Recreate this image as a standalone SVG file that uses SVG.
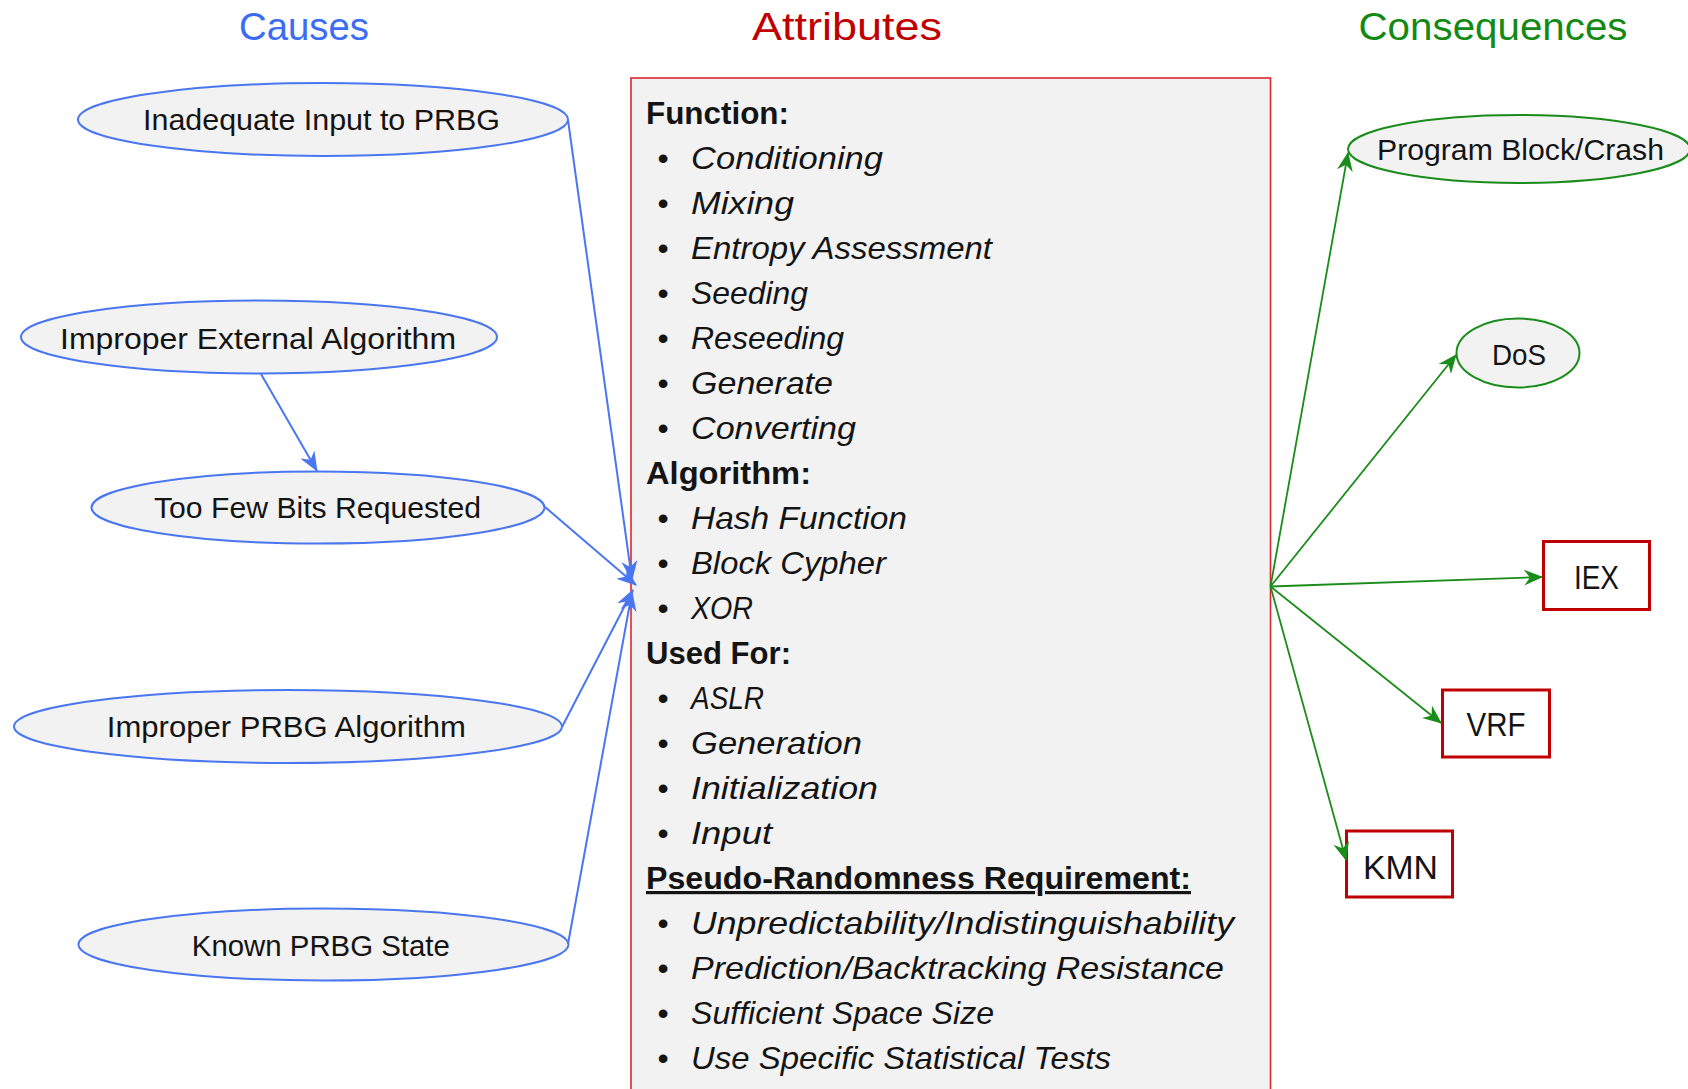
<svg xmlns="http://www.w3.org/2000/svg" width="1688" height="1089" viewBox="0 0 1688 1089">
<style>
text{font-family:"Liberation Sans",Arial,sans-serif;fill:#141414}
.title{font-size:39px;text-anchor:middle}
.cause{fill:#F2F2F2;stroke:#4A76F2;stroke-width:2}
.cons{fill:#F2F2F2;stroke:#1A8C1A;stroke-width:2}
.rbox{fill:#FFFFFF;stroke:#C00000;stroke-width:3}
.nt{font-size:30px;text-anchor:middle}
.bt{font-size:33px;text-anchor:middle}
.hd{font-size:32px;font-weight:bold}
.it{font-size:32px;font-style:italic}
.bu{font-size:32px;text-anchor:middle}
.bl{stroke:#4A76F2;stroke-width:2;fill:none}
.gl{stroke:#1A8C1A;stroke-width:1.8;fill:none}
</style>
<defs>
<marker id="ab" viewBox="0 0 20 16" refX="19" refY="8" markerWidth="20" markerHeight="16" orient="auto" markerUnits="userSpaceOnUse"><path d="M0,0 L20,8 L0,16 L6,8 Z" fill="#4A76F2"/></marker>
<marker id="ag" viewBox="0 0 19 16" refX="18" refY="8" markerWidth="19" markerHeight="16" orient="auto" markerUnits="userSpaceOnUse"><path d="M0,0 L19,8 L0,16 L6,8 Z" fill="#1A8C1A"/></marker>
</defs>
<rect width="1688" height="1089" fill="#FFFFFF"/>

<g id="titles">
<text class="title" x="304" y="40" style="fill:#3A6CF4" textLength="130" lengthAdjust="spacingAndGlyphs">Causes</text>
<text class="title" x="847" y="40" style="fill:#C00000" textLength="190" lengthAdjust="spacingAndGlyphs">Attributes</text>
<text class="title" x="1493" y="40" style="fill:#138A13" textLength="269" lengthAdjust="spacingAndGlyphs">Consequences</text>
</g>

<g id="attributes">
<rect x="631" y="78" width="639.5" height="1030" fill="#F2F2F2" stroke="#D9282E" stroke-width="1.6"/>
<text class="hd" x="646" y="124" textLength="143" lengthAdjust="spacingAndGlyphs">Function:</text>
<text class="bu" x="663" y="169">•</text><text class="it" x="691" y="169" textLength="192" lengthAdjust="spacingAndGlyphs">Conditioning</text>
<text class="bu" x="663" y="214">•</text><text class="it" x="691" y="214" textLength="103" lengthAdjust="spacingAndGlyphs">Mixing</text>
<text class="bu" x="663" y="259">•</text><text class="it" x="691" y="259" textLength="301" lengthAdjust="spacingAndGlyphs">Entropy Assessment</text>
<text class="bu" x="663" y="304">•</text><text class="it" x="691" y="304" textLength="117" lengthAdjust="spacingAndGlyphs">Seeding</text>
<text class="bu" x="663" y="349">•</text><text class="it" x="691" y="349" textLength="153" lengthAdjust="spacingAndGlyphs">Reseeding</text>
<text class="bu" x="663" y="394">•</text><text class="it" x="691" y="394" textLength="142" lengthAdjust="spacingAndGlyphs">Generate</text>
<text class="bu" x="663" y="439">•</text><text class="it" x="691" y="439" textLength="165" lengthAdjust="spacingAndGlyphs">Converting</text>
<text class="hd" x="646" y="484" textLength="165" lengthAdjust="spacingAndGlyphs">Algorithm:</text>
<text class="bu" x="663" y="529">•</text><text class="it" x="691" y="529" textLength="216" lengthAdjust="spacingAndGlyphs">Hash Function</text>
<text class="bu" x="663" y="574">•</text><text class="it" x="691" y="574" textLength="195" lengthAdjust="spacingAndGlyphs">Block Cypher</text>
<text class="bu" x="663" y="619">•</text><text class="it" x="691" y="619" textLength="62" lengthAdjust="spacingAndGlyphs">XOR</text>
<text class="hd" x="646" y="664" textLength="145" lengthAdjust="spacingAndGlyphs">Used For:</text>
<text class="bu" x="663" y="709">•</text><text class="it" x="691" y="709" textLength="73" lengthAdjust="spacingAndGlyphs">ASLR</text>
<text class="bu" x="663" y="754">•</text><text class="it" x="691" y="754" textLength="171" lengthAdjust="spacingAndGlyphs">Generation</text>
<text class="bu" x="663" y="799">•</text><text class="it" x="691" y="799" textLength="187" lengthAdjust="spacingAndGlyphs">Initialization</text>
<text class="bu" x="663" y="844">•</text><text class="it" x="691" y="844" textLength="81" lengthAdjust="spacingAndGlyphs">Input</text>
<text class="hd" x="646" y="889" text-decoration="underline" textLength="545" lengthAdjust="spacingAndGlyphs">Pseudo-Randomness Requirement:</text>
<text class="bu" x="663" y="934">•</text><text class="it" x="691" y="934" textLength="543" lengthAdjust="spacingAndGlyphs">Unpredictability/Indistinguishability</text>
<text class="bu" x="663" y="979">•</text><text class="it" x="691" y="979" textLength="533" lengthAdjust="spacingAndGlyphs">Prediction/Backtracking Resistance</text>
<text class="bu" x="663" y="1024">•</text><text class="it" x="691" y="1024" textLength="303" lengthAdjust="spacingAndGlyphs">Sufficient Space Size</text>
<text class="bu" x="663" y="1069">•</text><text class="it" x="691" y="1069" textLength="420" lengthAdjust="spacingAndGlyphs">Use Specific Statistical Tests</text>
</g>

<g id="cause-inadequate-input">
<ellipse class="cause" cx="323" cy="119.5" rx="245" ry="36.5"/>
<text class="nt" x="321.5" y="129.5" textLength="357" lengthAdjust="spacingAndGlyphs">Inadequate Input to PRBG</text>
</g>
<g id="cause-improper-external">
<ellipse class="cause" cx="259" cy="337" rx="238" ry="36.5"/>
<text class="nt" x="258" y="348.5" textLength="396" lengthAdjust="spacingAndGlyphs">Improper External Algorithm</text>
</g>
<g id="cause-too-few-bits">
<ellipse class="cause" cx="318" cy="507.5" rx="226.5" ry="36"/>
<text class="nt" x="317.5" y="517.5" textLength="327" lengthAdjust="spacingAndGlyphs">Too Few Bits Requested</text>
</g>
<g id="cause-improper-prbg">
<ellipse class="cause" cx="288" cy="726.5" rx="274" ry="36.5"/>
<text class="nt" x="286.3" y="736.5" textLength="359" lengthAdjust="spacingAndGlyphs">Improper PRBG Algorithm</text>
</g>
<g id="cause-known-state">
<ellipse class="cause" cx="323.5" cy="944.5" rx="245" ry="36"/>
<text class="nt" x="320.8" y="955.5" textLength="258" lengthAdjust="spacingAndGlyphs">Known PRBG State</text>
</g>

<g id="cons-program-block">
<ellipse class="cons" cx="1519" cy="149" rx="171" ry="34"/>
<text class="nt" x="1520.5" y="160" textLength="287" lengthAdjust="spacingAndGlyphs">Program Block/Crash</text>
</g>
<g id="cons-dos">
<ellipse class="cons" cx="1518" cy="353" rx="61.5" ry="34.5"/>
<text class="nt" x="1519" y="365" textLength="54" lengthAdjust="spacingAndGlyphs">DoS</text>
</g>
<g id="cons-iex">
<rect class="rbox" x="1543.5" y="541.5" width="106" height="68"/>
<text class="bt" x="1596.5" y="588.5" textLength="45" lengthAdjust="spacingAndGlyphs">IEX</text>
</g>
<g id="cons-vrf">
<rect class="rbox" x="1442.5" y="690" width="107" height="67"/>
<text class="bt" x="1496" y="735.5" textLength="59" lengthAdjust="spacingAndGlyphs">VRF</text>
</g>
<g id="cons-kmn">
<rect class="rbox" x="1346.5" y="831" width="106" height="66"/>
<text class="bt" x="1400.5" y="878.5" textLength="75" lengthAdjust="spacingAndGlyphs">KMN</text>
</g>

<g id="connectors">
<line class="bl" x1="568" y1="120" x2="632" y2="580" marker-end="url(#ab)"/>
<line class="bl" x1="261" y1="374" x2="317" y2="471" marker-end="url(#ab)"/>
<line class="bl" x1="545" y1="507" x2="636" y2="585" marker-end="url(#ab)"/>
<line class="bl" x1="562" y1="727" x2="633" y2="590" marker-end="url(#ab)"/>
<line class="bl" x1="568" y1="944" x2="632" y2="592" marker-end="url(#ab)"/>
<line class="gl" x1="1270.5" y1="586.5" x2="1348" y2="153" marker-end="url(#ag)"/>
<line class="gl" x1="1270.5" y1="586.5" x2="1456" y2="355" marker-end="url(#ag)"/>
<line class="gl" x1="1270.5" y1="586.5" x2="1542" y2="577" marker-end="url(#ag)"/>
<line class="gl" x1="1270.5" y1="586.5" x2="1441" y2="723" marker-end="url(#ag)"/>
<line class="gl" x1="1270.5" y1="586.5" x2="1346" y2="860" marker-end="url(#ag)"/>
</g>
</svg>
